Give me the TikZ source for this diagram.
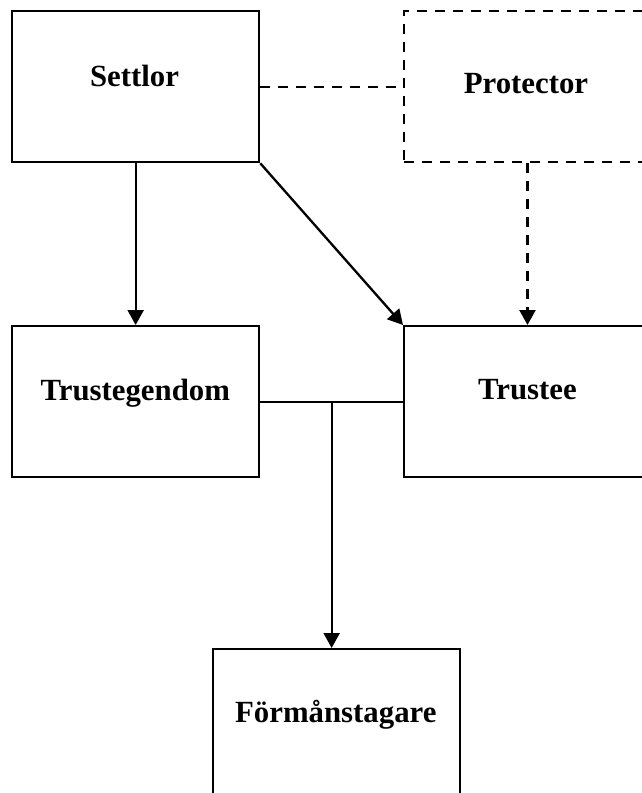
\documentclass[tikz,border=0pt]{standalone}
\usepackage{fontspec}
\setmainfont{Liberation Serif}
\usetikzlibrary{arrows.meta,calc}

\begin{document}
\begin{tikzpicture}[x=1pt,y=-1pt,
  box/.style={draw,line width=2.3pt,rectangle,anchor=north west,inner sep=0pt},
  dbox/.style={box,dash pattern=on 10pt off 8pt},
  lbl/.style={anchor=base,inner sep=0pt,font=\fontsize{30.8}{36}\selectfont\bfseries},
  conn/.style={line width=2.3pt},
  arr/.style={conn,-{Triangle[width=16pt,length=15pt]}},
  darr/.style={arr,dash pattern=on 10pt off 8pt}]
  \useasboundingbox (0,0) rectangle (642,793);
  \clip (0,0) rectangle (642,793);

  % boxes
  \node[box,minimum width=247pt,minimum height=151pt] (settlor) at (11,10) {};
  \node[dbox,minimum width=260pt,minimum height=151pt] (protector) at (403,10) {};
  \node[box,minimum width=247pt,minimum height=151pt] (trustegendom) at (11,325) {};
  \node[box,minimum width=260pt,minimum height=151pt] (trustee) at (403,325) {};
  \node[box,minimum width=247pt,minimum height=170pt] (formans) at (212,648) {};

  % labels
  \node[lbl] (settlorText) at (134.5,86) {Settlor};
  \node[lbl] (protectorText) at (526,93) {Protector};
  \node[lbl] (trustegendomText) at (135.3,400.7) {Trustegendom};
  \node[lbl] (trusteeText) at (527.5,399) {Trustee};
  \node[lbl] (formansText) at (335.8,722) {Förmånstagare};

  % connectors
  \draw[conn,dash pattern=on 10pt off 8pt] (settlor.east) -- (protector.west);
  \draw[arr] (settlor.south) -- (trustegendom.north);
  \draw[arr] (settlor.south east) -- (trustee.north west);
  \draw[darr] (protector.south west -| trusteeText) -- (trustee.north west -| trusteeText);
  \draw[conn] (trustegendom.east) -- (trustee.west);
  \coordinate (junction) at ($(trustegendom.east)!0.5!(trustee.west)$);
  \draw[arr] (junction) -- (junction |- formans.north);
\end{tikzpicture}
\end{document}
